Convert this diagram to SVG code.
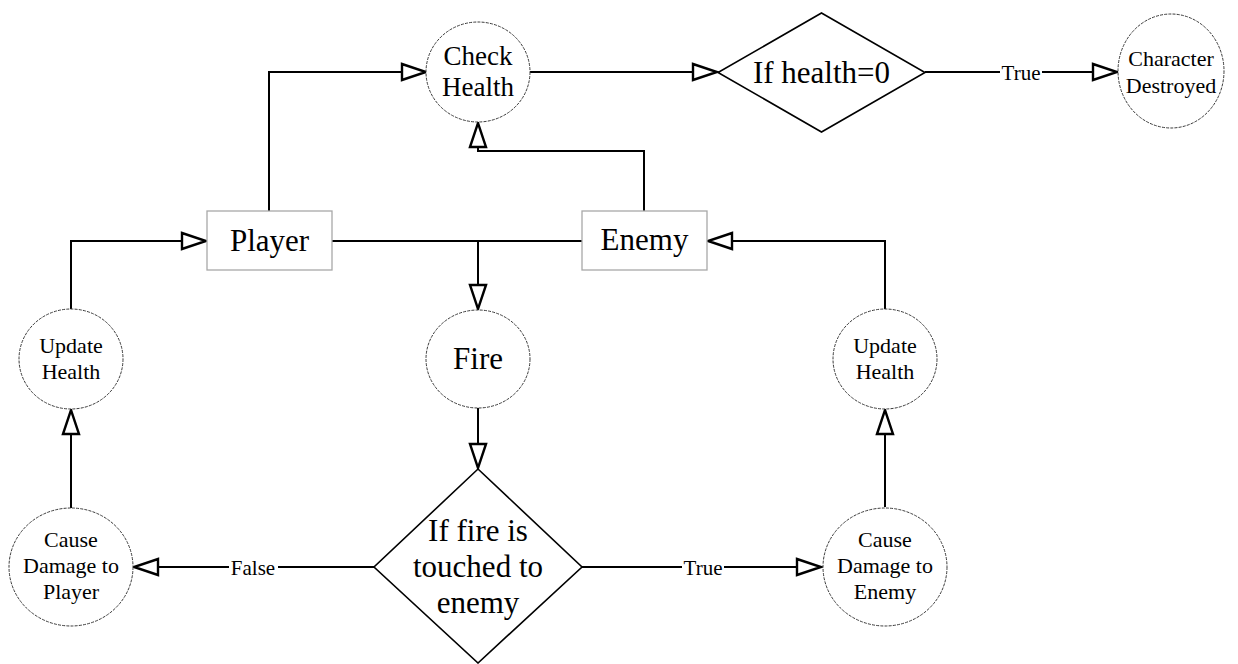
<svg xmlns="http://www.w3.org/2000/svg" width="1238" height="664" viewBox="0 0 1238 664">
  <style>
    .bg { fill: #ffffff; }
    .circle { fill: #ffffff; stroke: #3a3a3a; stroke-width: 1; stroke-dasharray: 3 1.2; }
    .box { fill: #ffffff; stroke: #a8a8a8; stroke-width: 1.3; }
    .diamond { fill: #ffffff; stroke: #000000; stroke-width: 1.6; }
    .edge { fill: none; stroke: #000000; stroke-width: 2; }
    .txt { font-family: "Liberation Serif", "Times New Roman", serif; fill: #000000; text-anchor: middle; }
    .big { font-size: 31px; }
    .mid { font-size: 27px; }
    .small { font-size: 22px; }
    .lbl { font-family: "Liberation Serif", "Times New Roman", serif; font-size: 21px; fill: #000000; text-anchor: middle; dominant-baseline: central; }
    .lblbg { fill: #ffffff; }
  </style>
  <defs>
    <marker id="hollow" markerUnits="userSpaceOnUse" markerWidth="30" markerHeight="22" refX="25" refY="9" orient="auto" overflow="visible">
      <path d="M1,1 L25,9 L1,17 Z" fill="#ffffff" stroke="#000000" stroke-width="2.4" stroke-linejoin="miter"/>
    </marker>
  </defs>

  <rect class="bg" x="0" y="0" width="1238" height="664"/>

  <!-- connectors -->
  <g id="connectors">
    <!-- Player up to Check Health -->
    <path class="edge" d="M269,211 V72 H426" marker-end="url(#hollow)"/>
    <!-- Enemy up to Check Health -->
    <path class="edge" d="M644,211 V151 H478 V123" marker-end="url(#hollow)"/>
    <!-- Check Health to decision -->
    <path class="edge" d="M530,72 H717" marker-end="url(#hollow)"/>
    <!-- decision True to Character Destroyed -->
    <path class="edge" d="M925,72 H1117" marker-end="url(#hollow)"/>
    <!-- Player - Enemy bar -->
    <path class="edge" d="M332,241 H582"/>
    <!-- bar down to Fire -->
    <path class="edge" d="M478,241 V309" marker-end="url(#hollow)"/>
    <!-- Fire to hit decision -->
    <path class="edge" d="M478,408 V468" marker-end="url(#hollow)"/>
    <!-- False branch -->
    <path class="edge" d="M374,567 H134" marker-end="url(#hollow)"/>
    <!-- True branch -->
    <path class="edge" d="M582,567 H821" marker-end="url(#hollow)"/>
    <!-- damage to player -> update health -->
    <path class="edge" d="M71,508 V410" marker-end="url(#hollow)"/>
    <!-- update health -> Player -->
    <path class="edge" d="M71,309 V241 H206" marker-end="url(#hollow)"/>
    <!-- damage to enemy -> update health -->
    <path class="edge" d="M885,507 V410" marker-end="url(#hollow)"/>
    <!-- update health -> Enemy -->
    <path class="edge" d="M885,309 V241 H708" marker-end="url(#hollow)"/>

    <!-- edge labels -->
    <rect class="lblbg" x="1000" y="62" width="42" height="20"/>
    <text class="lbl" x="1021" y="73">True</text>
    <rect class="lblbg" x="229" y="557" width="49" height="20"/>
    <text class="lbl" x="253" y="568">False</text>
    <rect class="lblbg" x="682" y="557" width="42" height="20"/>
    <text class="lbl" x="703" y="568">True</text>
  </g>

  <g id="check-health">
    <ellipse class="circle" cx="478" cy="72" rx="52" ry="50"/>
    <text class="txt mid" x="478" y="65">Check</text>
    <text class="txt mid" x="478" y="96">Health</text>
  </g>

  <g id="health-zero">
    <polygon class="diamond" points="821.5,13 925,72.5 821.5,132 718,72.5"/>
    <text class="txt big" x="821.5" y="83">If health=0</text>
  </g>

  <g id="character-destroyed">
    <ellipse class="circle" cx="1171" cy="71" rx="53" ry="57"/>
    <text class="txt small" x="1171" y="66">Character</text>
    <text class="txt small" x="1171" y="93">Destroyed</text>
  </g>

  <g id="player">
    <rect class="box" x="207" y="211" width="125" height="59"/>
    <text class="txt big" x="269.5" y="251">Player</text>
  </g>

  <g id="enemy">
    <rect class="box" x="582" y="211" width="125" height="59"/>
    <text class="txt big" x="644.5" y="250">Enemy</text>
  </g>

  <g id="fire">
    <ellipse class="circle" cx="478" cy="359" rx="52" ry="49"/>
    <text class="txt big" x="478" y="369">Fire</text>
  </g>

  <g id="fire-hit">
    <polygon class="diamond" points="478,469 582,567 478,663 374,567"/>
    <text class="txt big" x="478" y="541">If fire is</text>
    <text class="txt big" x="478" y="577">touched to</text>
    <text class="txt big" x="478" y="613">enemy</text>
  </g>

  <g id="update-health-player">
    <ellipse class="circle" cx="71" cy="359" rx="52" ry="50"/>
    <text class="txt small" x="71" y="353">Update</text>
    <text class="txt small" x="71" y="379">Health</text>
  </g>

  <g id="update-health-enemy">
    <ellipse class="circle" cx="885" cy="359" rx="52" ry="50"/>
    <text class="txt small" x="885" y="353">Update</text>
    <text class="txt small" x="885" y="379">Health</text>
  </g>

  <g id="damage-player">
    <ellipse class="circle" cx="71" cy="567" rx="62" ry="59"/>
    <text class="txt small" x="71" y="547">Cause</text>
    <text class="txt small" x="71" y="573">Damage to</text>
    <text class="txt small" x="71" y="599">Player</text>
  </g>

  <g id="damage-enemy">
    <ellipse class="circle" cx="885" cy="567" rx="62" ry="59"/>
    <text class="txt small" x="885" y="547">Cause</text>
    <text class="txt small" x="885" y="573">Damage to</text>
    <text class="txt small" x="885" y="599">Enemy</text>
  </g>
</svg>
